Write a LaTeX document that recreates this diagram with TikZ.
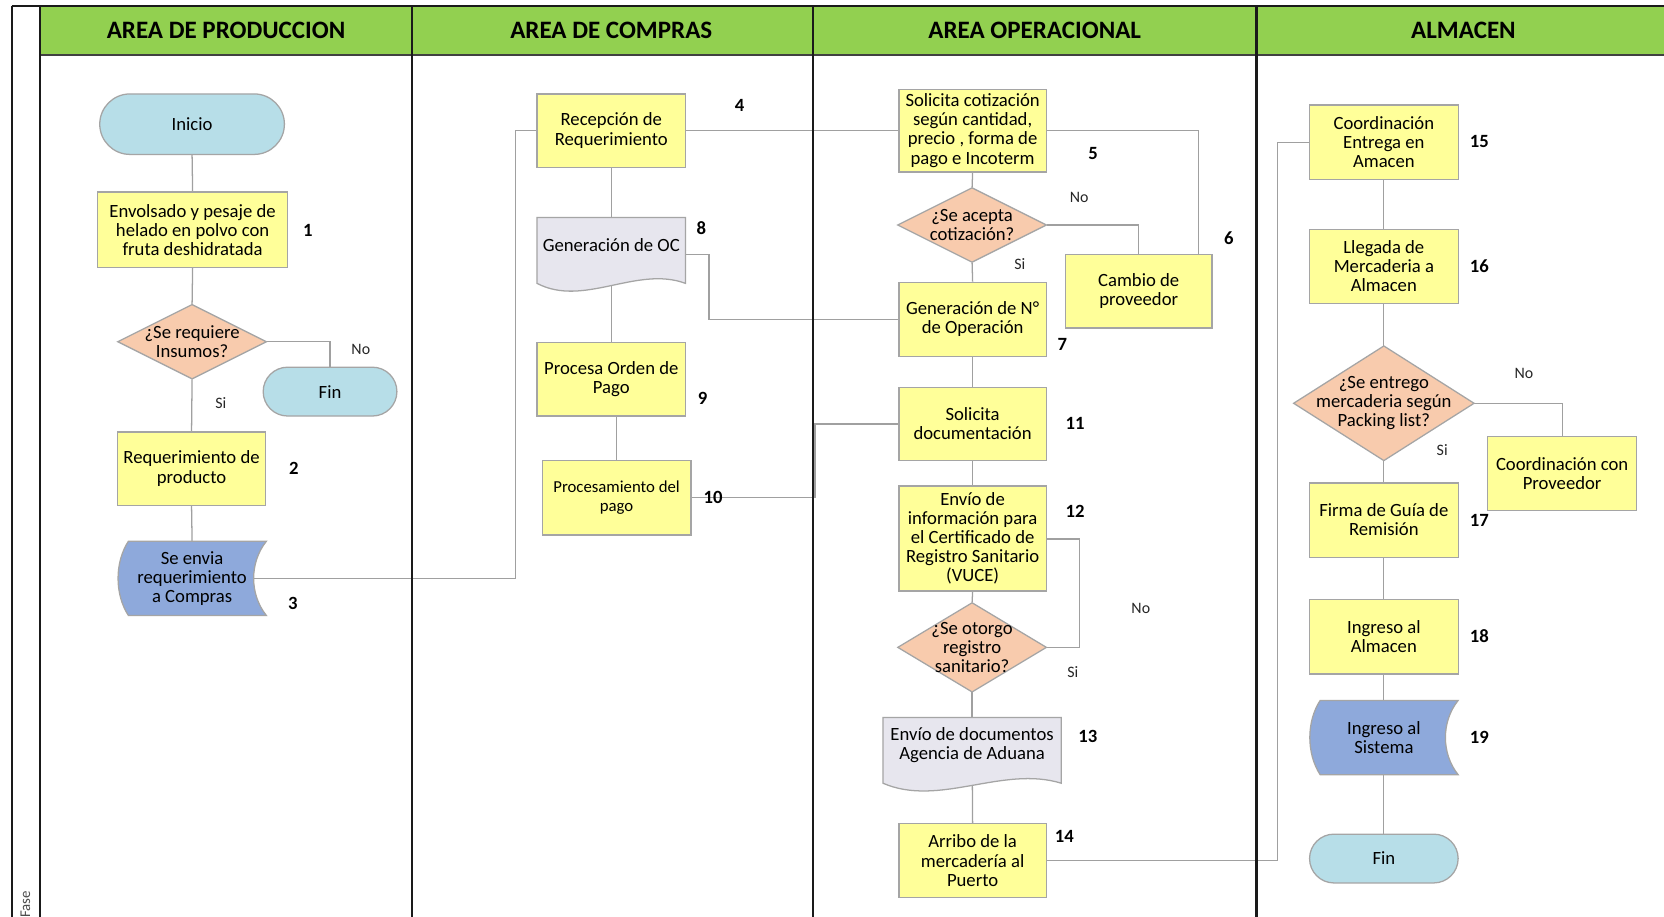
\documentclass[tikz,border=0pt]{standalone}
\usepackage{fontspec}
\setmainfont{Carlito}
\usetikzlibrary{shapes.misc,calc}
\pgfdeclarelayer{bg}
\pgfsetlayers{bg,main}

\definecolor{headgreen}{HTML}{92D050}
\definecolor{procfill}{HTML}{FFFF99}
\definecolor{decfill}{HTML}{F8CBAD}
\definecolor{termfill}{HTML}{B7DEE8}
\definecolor{storefill}{HTML}{8EA9DB}
\definecolor{docfill}{HTML}{E7E6EE}
\definecolor{shapeline}{HTML}{A5A5A5}
\definecolor{connline}{HTML}{A0A0A0}
\definecolor{laneline}{HTML}{1A1A1A}

\newcommand\procfont{\fontsize{8.8}{9}\selectfont}

\tikzset{
  every node/.style={inner sep=0pt, font=\procfont, text=black},
  proc/.style={draw=shapeline, fill=procfill, line width=0.6pt, align=center},
  term/.style={rounded rectangle, draw=shapeline, fill=termfill, line width=0.6pt},
  plainnode/.style={align=center},
  shapefill/.style={draw=shapeline, line width=0.6pt},
  conn/.style={draw=connline, line width=0.6pt},
  lane/.style={draw=laneline, line width=1pt},
  num/.style={font=\fontsize{8.8}{9}\selectfont\bfseries, text=black},
  yesno/.style={font=\fontsize{7.5}{8}\selectfont, text=black!85},
  headtext/.style={font=\fontsize{11.8}{13}\selectfont\bfseries, text=black},
}

% stored data symbol: name, cx, cy, text
\newcommand\storedsym[4]{%
  \path[shapefill, fill=storefill] (#2-60,#3-35) -- (#2+70,#3-35)
    .. controls (#2+54,#3-15) and (#2+54,#3+15) .. (#2+70,#3+35)
    -- (#2-60,#3+35)
    .. controls (#2-73,#3+15) and (#2-73,#3-15) .. cycle;
  \node[plainnode, minimum width=70pt, minimum height=35pt] (#1) at (#2,#3) {#4};}

% document symbol: name, cx, top, half width, height, text
\newcommand\docsym[6]{%
  \path[shapefill, fill=docfill] (#2-#4,#3) -- (#2+#4,#3) -- (#2+#4,#3+#5)
    .. controls (#2+0.34*#4,#3+#5-17) and (#2-0.37*#4,#3+#5+23) .. (#2-#4,#3+#5)
    -- cycle;
  \node[minimum width=#4pt, minimum height=#5*0.5pt] (#1) at (#2,#3+#5*0.5) {};
  \node[plainnode] (#1-t) at (#2,#3+26) {#6};}

% decision symbol: name, cx, cy, half width, half height, text
\newcommand\decsym[6]{%
  \path[shapefill, fill=decfill] (#2,#3-#5) -- (#2+#4,#3) -- (#2,#3+#5) -- (#2-#4,#3) -- cycle;
  \node[plainnode, minimum width=#4pt, minimum height=#5pt] (#1) at (#2,#3) {#6};}

\begin{document}
\begin{tikzpicture}[x=0.5pt, y=-0.5pt]
\useasboundingbox (0,0) rectangle (1568,864);
\begin{pgfonlayer}{bg}
\fill[white] (0,0) rectangle (1568,864);
\end{pgfonlayer}

% ---------- frame and lane headers ----------
\fill[headgreen] (38,6) rectangle (1570,52);
\draw[draw=black!75, line width=1pt] (38,52) -- (1570,52);
\draw[lane] (11,6) -- (1570,6);
\draw[lane] (11,6) -- (11,866);
\draw[lane] (38,6) -- (38,866);
\draw[lane] (388,6) -- (388,866);
\draw[lane] (766,6) -- (766,866);
\draw[lane] (1184,6) -- (1184,866);

\node[headtext] (h1) at (213,29) {AREA DE PRODUCCION};
\node[headtext] (h2) at (576,29) {AREA DE COMPRAS};
\node[headtext] (h3) at (975,29) {AREA OPERACIONAL};
\node[headtext] (h4) at (1379,29) {ALMACEN};
\node[rotate=90, anchor=west, font=\fontsize{7}{8}\selectfont, text=black!70] (fase) at (24,865) {Fase};

% ---------- area de produccion ----------
\node[term, minimum width=87pt, minimum height=28.5pt] (ini) at (181,117) {Inicio};
\node[proc, minimum width=89.5pt, minimum height=35.5pt] (b1) at (181.5,216.5)
  {Envolsado y pesaje de\\helado en polvo con\\fruta deshidratada};
\decsym{d1}{181}{322}{70}{35}{¿Se requiere\\Insumos?}
\node[term, minimum width=63pt, minimum height=23pt] (fin1) at (311,369) {Fin};
\node[proc, minimum width=69.5pt, minimum height=34.5pt] (b2) at (180.5,441.5)
  {Requerimiento de\\producto};
\storedsym{s3}{181}{545}{Se envia\\requerimiento\\a Compras}

% ---------- area de compras ----------
\node[proc, minimum width=70pt, minimum height=34.5pt] (r4) at (576,123)
  {Recepción de\\Requerimiento};
\docsym{oc8}{576}{205}{70}{62}{Generación de OC}
\node[proc, minimum width=70pt, minimum height=34.5pt] (p9) at (576,357.5)
  {Procesa Orden de\\Pago};
\node[proc, minimum width=70pt, minimum height=35pt, font=\fontsize{7.9}{9}\selectfont] (pp10) at (581,469)
  {Procesamiento del\\pago};

% ---------- area operacional ----------
\node[proc, minimum width=69.5pt, minimum height=39pt] (s5) at (916.5,123)
  {Solicita cotización\\según cantidad,\\precio , forma de\\pago e Incoterm};
\decsym{d2}{916}{212}{70}{35}{¿Se acepta\\cotización?}
\node[proc, minimum width=69pt, minimum height=34.5pt] (cp6) at (1073,274.5)
  {Cambio de\\proveedor};
\node[proc, minimum width=69.5pt, minimum height=35pt] (g7) at (916.5,301)
  {Generación de N°\\de Operación};
\node[proc, minimum width=69.5pt, minimum height=34.5pt] (sd11) at (916.5,399.5)
  {Solicita\\documentación};
\node[proc, minimum width=69.5pt, minimum height=49.5pt] (e12) at (916.5,507.5)
  {Envío de\\información para\\el Certificado de\\Registro Sanitario\\(VUCE)};
\decsym{d3}{916}{610}{70}{42}{¿Se otorgo\\registro\\sanitario?}
\docsym{ea13}{916}{676}{84}{62}{Envío de documentos\\Agencia de Aduana}
\node[proc, minimum width=69.5pt, minimum height=35pt] (a14) at (916.5,811)
  {Arribo de la\\mercadería al\\Puerto};

% ---------- almacen ----------
\node[proc, minimum width=70pt, minimum height=35pt] (c15) at (1304,134)
  {Coordinación\\Entrega en\\Amacen};
\node[proc, minimum width=70pt, minimum height=35pt] (l16) at (1304,251)
  {Llegada de\\Mercaderia a\\Almacen};
\decsym{d4}{1304}{380}{85}{54}{¿Se entrego\\mercaderia según\\Packing list?}
\node[proc, minimum width=70pt, minimum height=35pt] (cpr) at (1472,446)
  {Coordinación con\\Proveedor};
\node[proc, minimum width=70pt, minimum height=35pt] (f17) at (1304,490)
  {Firma de Guía de\\Remisión};
\node[proc, minimum width=70pt, minimum height=35pt] (i18) at (1304,600)
  {Ingreso al\\Almacen};
\storedsym{is19}{1304}{695}{Ingreso al\\Sistema}
\node[term, minimum width=70pt, minimum height=23pt] (fin2) at (1304,809) {Fin};

% ---------- step numbers ----------
\node[num] (n1) at (290,217) {1};
\node[num] (n2) at (277,441) {2};
\node[num] (n3) at (276,569) {3};
\node[num] (n4) at (697,99) {4};
\node[num] (n5) at (1030,145) {5};
\node[num] (n6) at (1158,224) {6};
\node[num] (n7) at (1001,325) {7};
\node[num] (n8) at (661,215) {8};
\node[num] (n9) at (662,375) {9};
\node[num] (n10) at (672,469) {10};
\node[num] (n11) at (1013,399) {11};
\node[num] (n12) at (1013,482) {12};
\node[num] (n13) at (1025,694) {13};
\node[num] (n14) at (1003,788) {14};
\node[num] (n15) at (1394,133) {15};
\node[num] (n16) at (1394,251) {16};
\node[num] (n17) at (1394,490) {17};
\node[num] (n18) at (1394,599) {18};
\node[num] (n19) at (1394,695) {19};

% ---------- branch labels ----------
\node[yesno] (no1) at (340,329) {No};
\node[yesno] (si1) at (208,380) {Si};
\node[yesno] (no2) at (1017,186) {No};
\node[yesno] (si2) at (961,249) {Si};
\node[yesno] (no3) at (1075,573) {No};
\node[yesno] (si3) at (1011,633) {Si};
\node[yesno] (no4) at (1436,352) {No};
\node[yesno] (si4) at (1359,424) {Si};

% ---------- connectors ----------
\begin{pgfonlayer}{bg}
\draw[conn] (ini.south) -- (b1.north);
\draw[conn] (b1.south) -- (d1.north);
\draw[conn] (d1.east) -| (fin1.north);
\draw[conn] (d1.south) -- (b2.north);
\draw[conn] (b2.south) -- (s3.north);
\coordinate (k3) at (486,545);
\draw[conn] (s3.center) -- (k3) |- (r4.west);
\draw[conn] (r4.east) -- (s5.west);
\draw[conn] (r4.south) -- (oc8.north);
\draw[conn] (oc8.center) -- (p9.north);
\coordinate (k8) at (668,240);
\draw[conn] (oc8.east |- k8) -- (k8) |- (g7.west);
\draw[conn] (pp10.north |- p9.south) -- (pp10.north);
\coordinate (k10) at (768,469);
\draw[conn] (pp10.east) -- (k10) |- (sd11.west);
\draw[conn] (s5.south) -- (d2.north);
\draw[conn] (s5.east) -| ($(cp6.north east)+(-13,0)$);
\draw[conn] (d2.east) -| (cp6.north);
\draw[conn] (d2.south) -- (g7.north);
\draw[conn] (g7.south) -- (sd11.north);
\draw[conn] (sd11.south) -- (e12.north);
\draw[conn] (e12.south) -- (d3.north);
\coordinate (k12) at (1017,508);
\draw[conn] (e12.east |- k12) -- (k12) |- (d3.east);
\draw[conn] (d3.south) -- (ea13.north);
\draw[conn] (ea13.center) -- (a14.north);
\coordinate (k14) at (1204,811);
\draw[conn] (a14.east) -- (k14) |- (c15.west);
\draw[conn] (c15.south) -- (l16.north);
\draw[conn] (l16.south) -- (d4.north);
\draw[conn] (d4.east) -| (cpr.north);
\draw[conn] (d4.south) -- (f17.north);
\draw[conn] (f17.south) -- (i18.north);
\draw[conn] (i18.south) -- (is19.north);
\draw[conn] (is19.center) -- (fin2.north);
\end{pgfonlayer}
\end{tikzpicture}
\end{document}
